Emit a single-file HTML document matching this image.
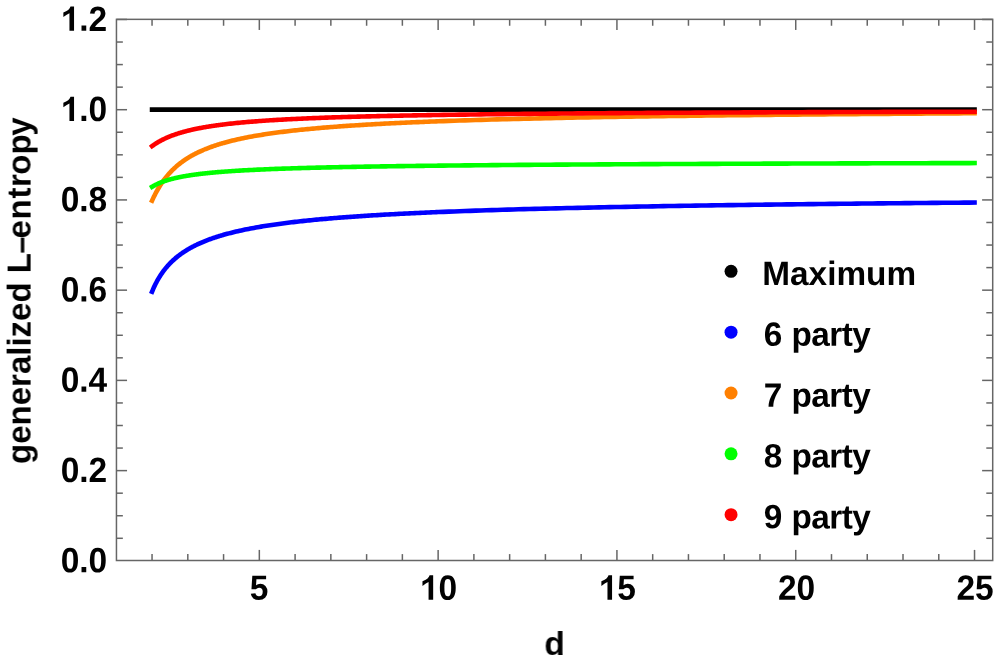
<!DOCTYPE html>
<html><head><meta charset="utf-8"><title>plot</title>
<style>
html,body{margin:0;padding:0;background:#fff;}
svg{display:block;}
text{font-family:"Liberation Sans",sans-serif;font-weight:bold;font-size:33.5px;fill:#000;}
</style></head><body>
<svg width="997" height="667" viewBox="0 0 997 667">
<rect x="0" y="0" width="997" height="667" fill="#ffffff"/>
<g>
<polyline points="152.05,109.60 974.53,109.60" fill="none" stroke="#000000" stroke-width="4.60" stroke-linecap="square" stroke-linejoin="round"/>
<polyline points="152.05,291.71 152.65,290.28 153.24,288.89 153.84,287.56 154.43,286.27 155.03,285.03 155.63,283.83 156.22,282.67 156.82,281.54 157.41,280.45 158.01,279.40 158.61,278.37 159.20,277.38 159.80,276.42 160.39,275.48 160.99,274.57 161.59,273.69 162.18,272.83 162.78,271.99 163.37,271.18 163.97,270.38 164.57,269.61 165.16,268.86 165.76,268.12 166.35,267.40 166.95,266.70 167.55,266.02 168.14,265.35 168.74,264.70 169.33,264.06 169.93,263.44 170.53,262.83 171.12,262.23 171.72,261.65 172.31,261.08 172.91,260.52 173.51,259.97 174.10,259.43 174.70,258.91 175.29,258.39 175.89,257.89 176.49,257.39 177.08,256.90 177.68,256.43 178.27,255.96 178.87,255.50 179.47,255.05 180.06,254.60 180.66,254.17 181.25,253.74 181.85,253.32 182.45,252.90 183.04,252.50 183.64,252.10 184.23,251.70 184.83,251.32 185.43,250.94 186.02,250.56 186.62,250.19 187.21,249.83 187.81,249.47 188.41,249.12 189.00,248.77 189.60,248.43 190.19,248.10 190.79,247.77 191.39,247.44 191.98,247.12 192.58,246.80 193.17,246.49 193.77,246.18 194.37,245.88 194.96,245.58 195.56,245.29 196.15,244.99 196.75,244.71 197.35,244.42 197.94,244.14 198.54,243.87 199.13,243.60 199.73,243.33 200.33,243.06 200.92,242.80 201.52,242.54 202.11,242.29 202.71,242.04 203.31,241.79 203.90,241.54 204.50,241.30 205.09,241.06 205.69,240.82 206.29,240.59 206.88,240.36 207.48,240.13 208.07,239.90 208.67,239.68 209.27,239.46 209.86,239.24 210.46,239.02 211.05,238.81 211.65,238.60 212.25,238.39 212.84,238.18 213.44,237.98 214.03,237.78 214.63,237.58 215.23,237.38 215.82,237.19 216.42,236.99 217.01,236.80 217.61,236.61 218.21,236.43 218.80,236.24 219.40,236.06 219.99,235.88 220.59,235.70 221.19,235.52 221.78,235.34 222.38,235.17 222.97,235.00 223.57,234.83 225.36,234.32 227.15,233.84 228.93,233.36 230.72,232.90 232.51,232.45 234.30,232.02 236.09,231.59 237.87,231.18 239.66,230.77 241.45,230.38 243.24,230.00 245.03,229.62 246.81,229.26 248.60,228.90 250.39,228.56 252.18,228.22 253.97,227.89 255.75,227.56 257.54,227.24 259.33,226.94 261.12,226.63 262.91,226.34 264.69,226.05 266.48,225.76 268.27,225.48 270.06,225.21 271.85,224.94 273.63,224.68 275.42,224.42 277.21,224.17 279.00,223.93 280.79,223.69 282.57,223.45 284.36,223.21 286.15,222.99 287.94,222.76 289.73,222.54 291.51,222.33 293.30,222.11 295.09,221.90 296.88,221.70 298.67,221.50 300.45,221.30 302.24,221.10 304.03,220.91 305.82,220.72 307.61,220.54 309.39,220.36 311.18,220.18 312.97,220.00 314.76,219.83 316.55,219.66 318.33,219.49 320.12,219.32 321.91,219.16 323.70,219.00 325.49,218.84 327.27,218.69 329.06,218.53 330.85,218.38 332.64,218.23 334.43,218.08 336.21,217.94 338.00,217.80 339.79,217.66 341.58,217.52 343.37,217.38 345.15,217.24 346.94,217.11 348.73,216.98 350.52,216.85 352.31,216.72 354.09,216.60 355.88,216.47 357.67,216.35 359.46,216.23 361.25,216.11 363.03,215.99 364.82,215.87 366.61,215.76 368.40,215.64 370.19,215.53 371.97,215.42 373.76,215.31 375.55,215.20 377.34,215.09 379.13,214.99 380.91,214.88 382.70,214.78 384.49,214.67 386.28,214.57 388.07,214.47 389.85,214.37 391.64,214.28 393.43,214.18 395.22,214.08 397.01,213.99 398.79,213.90 400.58,213.80 402.37,213.71 404.16,213.62 405.95,213.53 407.73,213.44 409.52,213.36 411.31,213.27 413.10,213.18 414.89,213.10 416.67,213.01 418.46,212.93 420.25,212.85 422.04,212.77 423.83,212.69 425.61,212.61 427.40,212.53 429.19,212.45 430.98,212.37 432.77,212.30 434.55,212.22 436.34,212.14 438.13,212.07 443.49,211.85 448.86,211.64 454.22,211.43 459.59,211.23 464.95,211.03 470.31,210.84 475.68,210.65 481.04,210.47 486.41,210.29 491.77,210.12 497.13,209.95 502.50,209.79 507.86,209.63 513.23,209.47 518.59,209.31 523.95,209.16 529.32,209.02 534.68,208.87 540.05,208.73 545.41,208.60 550.77,208.46 556.14,208.33 561.50,208.20 566.87,208.07 572.23,207.95 577.59,207.83 582.96,207.71 588.32,207.59 593.69,207.48 599.05,207.36 604.41,207.25 609.78,207.15 615.14,207.04 620.51,206.93 625.87,206.83 631.23,206.73 636.60,206.63 641.96,206.53 647.33,206.44 652.69,206.34 658.05,206.25 663.42,206.16 668.78,206.07 674.15,205.98 679.51,205.89 684.87,205.81 690.24,205.72 695.60,205.64 700.97,205.56 706.33,205.48 711.69,205.40 717.06,205.32 722.42,205.25 727.79,205.17 733.15,205.09 738.51,205.02 743.88,204.95 749.24,204.88 754.61,204.81 759.97,204.74 765.33,204.67 770.70,204.60 776.06,204.53 781.43,204.47 786.79,204.40 792.15,204.34 797.52,204.27 802.88,204.21 808.25,204.15 813.61,204.09 818.97,204.03 824.34,203.97 829.70,203.91 835.07,203.85 840.43,203.80 845.79,203.74 851.16,203.68 856.52,203.63 861.89,203.57 867.25,203.52 872.61,203.46 877.98,203.41 883.34,203.36 888.71,203.31 894.07,203.26 899.43,203.21 904.80,203.16 910.16,203.11 915.53,203.06 920.89,203.01 926.25,202.96 931.62,202.91 936.98,202.87 942.35,202.82 947.71,202.78 953.07,202.73 958.44,202.69 963.80,202.64 969.17,202.60 974.53,202.55" fill="none" stroke="#0000ff" stroke-width="4.60" stroke-linecap="square" stroke-linejoin="round"/>
<polyline points="152.05,200.71 152.65,199.39 153.24,198.10 153.84,196.85 154.43,195.64 155.03,194.45 155.63,193.30 156.22,192.18 156.82,191.08 157.41,190.02 158.01,188.98 158.61,187.97 159.20,186.98 159.80,186.02 160.39,185.08 160.99,184.17 161.59,183.27 162.18,182.40 162.78,181.55 163.37,180.71 163.97,179.90 164.57,179.11 165.16,178.33 165.76,177.57 166.35,176.83 166.95,176.10 167.55,175.39 168.14,174.70 168.74,174.02 169.33,173.35 169.93,172.70 170.53,172.06 171.12,171.43 171.72,170.82 172.31,170.22 172.91,169.63 173.51,169.06 174.10,168.49 174.70,167.94 175.29,167.39 175.89,166.86 176.49,166.34 177.08,165.82 177.68,165.32 178.27,164.82 178.87,164.34 179.47,163.86 180.06,163.39 180.66,162.93 181.25,162.48 181.85,162.04 182.45,161.60 183.04,161.17 183.64,160.75 184.23,160.34 184.83,159.93 185.43,159.53 186.02,159.14 186.62,158.75 187.21,158.37 187.81,157.99 188.41,157.62 189.00,157.26 189.60,156.90 190.19,156.55 190.79,156.21 191.39,155.86 191.98,155.53 192.58,155.20 193.17,154.87 193.77,154.55 194.37,154.24 194.96,153.92 195.56,153.62 196.15,153.31 196.75,153.02 197.35,152.72 197.94,152.43 198.54,152.15 199.13,151.87 199.73,151.59 200.33,151.31 200.92,151.04 201.52,150.78 202.11,150.51 202.71,150.26 203.31,150.00 203.90,149.75 204.50,149.50 205.09,149.25 205.69,149.01 206.29,148.77 206.88,148.53 207.48,148.30 208.07,148.07 208.67,147.84 209.27,147.61 209.86,147.39 210.46,147.17 211.05,146.96 211.65,146.74 212.25,146.53 212.84,146.32 213.44,146.11 214.03,145.91 214.63,145.71 215.23,145.51 215.82,145.31 216.42,145.11 217.01,144.92 217.61,144.73 218.21,144.54 218.80,144.36 219.40,144.17 219.99,143.99 220.59,143.81 221.19,143.63 221.78,143.45 222.38,143.28 222.97,143.11 223.57,142.94 225.36,142.44 227.15,141.95 228.93,141.48 230.72,141.02 232.51,140.58 234.30,140.15 236.09,139.73 237.87,139.32 239.66,138.92 241.45,138.54 243.24,138.16 245.03,137.80 246.81,137.44 248.60,137.10 250.39,136.76 252.18,136.43 253.97,136.11 255.75,135.79 257.54,135.49 259.33,135.19 261.12,134.90 262.91,134.61 264.69,134.33 266.48,134.06 268.27,133.79 270.06,133.53 271.85,133.28 273.63,133.02 275.42,132.78 277.21,132.54 279.00,132.31 280.79,132.08 282.57,131.85 284.36,131.63 286.15,131.41 287.94,131.20 289.73,130.99 291.51,130.79 293.30,130.58 295.09,130.39 296.88,130.19 298.67,130.00 300.45,129.82 302.24,129.63 304.03,129.45 305.82,129.28 307.61,129.10 309.39,128.93 311.18,128.76 312.97,128.60 314.76,128.44 316.55,128.28 318.33,128.12 320.12,127.96 321.91,127.81 323.70,127.66 325.49,127.51 327.27,127.37 329.06,127.23 330.85,127.08 332.64,126.95 334.43,126.81 336.21,126.67 338.00,126.54 339.79,126.41 341.58,126.28 343.37,126.16 345.15,126.03 346.94,125.91 348.73,125.78 350.52,125.66 352.31,125.55 354.09,125.43 355.88,125.31 357.67,125.20 359.46,125.09 361.25,124.98 363.03,124.87 364.82,124.76 366.61,124.66 368.40,124.55 370.19,124.45 371.97,124.34 373.76,124.24 375.55,124.14 377.34,124.05 379.13,123.95 380.91,123.85 382.70,123.76 384.49,123.66 386.28,123.57 388.07,123.48 389.85,123.39 391.64,123.30 393.43,123.21 395.22,123.12 397.01,123.04 398.79,122.95 400.58,122.87 402.37,122.79 404.16,122.70 405.95,122.62 407.73,122.54 409.52,122.46 411.31,122.38 413.10,122.31 414.89,122.23 416.67,122.15 418.46,122.08 420.25,122.00 422.04,121.93 423.83,121.86 425.61,121.78 427.40,121.71 429.19,121.64 430.98,121.57 432.77,121.50 434.55,121.43 436.34,121.37 438.13,121.30 443.49,121.10 448.86,120.91 454.22,120.72 459.59,120.54 464.95,120.37 470.31,120.20 475.68,120.03 481.04,119.87 486.41,119.71 491.77,119.56 497.13,119.41 502.50,119.26 507.86,119.12 513.23,118.98 518.59,118.85 523.95,118.71 529.32,118.59 534.68,118.46 540.05,118.34 545.41,118.22 550.77,118.10 556.14,117.99 561.50,117.87 566.87,117.76 572.23,117.66 577.59,117.55 582.96,117.45 588.32,117.35 593.69,117.25 599.05,117.15 604.41,117.06 609.78,116.97 615.14,116.88 620.51,116.79 625.87,116.70 631.23,116.61 636.60,116.53 641.96,116.45 647.33,116.37 652.69,116.29 658.05,116.21 663.42,116.13 668.78,116.06 674.15,115.99 679.51,115.91 684.87,115.84 690.24,115.77 695.60,115.70 700.97,115.64 706.33,115.57 711.69,115.50 717.06,115.44 722.42,115.38 727.79,115.31 733.15,115.25 738.51,115.19 743.88,115.13 749.24,115.08 754.61,115.02 759.97,114.96 765.33,114.91 770.70,114.85 776.06,114.80 781.43,114.75 786.79,114.69 792.15,114.64 797.52,114.59 802.88,114.54 808.25,114.49 813.61,114.44 818.97,114.40 824.34,114.35 829.70,114.30 835.07,114.26 840.43,114.21 845.79,114.17 851.16,114.12 856.52,114.08 861.89,114.04 867.25,113.99 872.61,113.95 877.98,113.91 883.34,113.87 888.71,113.83 894.07,113.79 899.43,113.75 904.80,113.71 910.16,113.68 915.53,113.64 920.89,113.60 926.25,113.56 931.62,113.53 936.98,113.49 942.35,113.46 947.71,113.42 953.07,113.39 958.44,113.35 963.80,113.32 969.17,113.29 974.53,113.26" fill="none" stroke="#ff8000" stroke-width="4.60" stroke-linecap="square" stroke-linejoin="round"/>
<polyline points="152.05,186.82 152.65,186.46 153.24,186.11 153.84,185.78 154.43,185.45 155.03,185.14 155.63,184.83 156.22,184.53 156.82,184.24 157.41,183.96 158.01,183.69 158.61,183.42 159.20,183.16 159.80,182.91 160.39,182.66 160.99,182.42 161.59,182.19 162.18,181.96 162.78,181.74 163.37,181.52 163.97,181.31 164.57,181.11 165.16,180.90 165.76,180.71 166.35,180.52 166.95,180.33 167.55,180.14 168.14,179.96 168.74,179.79 169.33,179.62 169.93,179.45 170.53,179.28 171.12,179.12 171.72,178.96 172.31,178.81 172.91,178.66 173.51,178.51 174.10,178.36 174.70,178.22 175.29,178.08 175.89,177.94 176.49,177.81 177.08,177.67 177.68,177.54 178.27,177.42 178.87,177.29 179.47,177.17 180.06,177.05 180.66,176.93 181.25,176.81 181.85,176.70 182.45,176.58 183.04,176.47 183.64,176.36 184.23,176.26 184.83,176.15 185.43,176.05 186.02,175.94 186.62,175.84 187.21,175.75 187.81,175.65 188.41,175.55 189.00,175.46 189.60,175.36 190.19,175.27 190.79,175.18 191.39,175.09 191.98,175.01 192.58,174.92 193.17,174.84 193.77,174.75 194.37,174.67 194.96,174.59 195.56,174.51 196.15,174.43 196.75,174.35 197.35,174.27 197.94,174.20 198.54,174.12 199.13,174.05 199.73,173.98 200.33,173.90 200.92,173.83 201.52,173.76 202.11,173.69 202.71,173.63 203.31,173.56 203.90,173.49 204.50,173.43 205.09,173.36 205.69,173.30 206.29,173.23 206.88,173.17 207.48,173.11 208.07,173.05 208.67,172.99 209.27,172.93 209.86,172.87 210.46,172.81 211.05,172.76 211.65,172.70 212.25,172.64 212.84,172.59 213.44,172.53 214.03,172.48 214.63,172.42 215.23,172.37 215.82,172.32 216.42,172.27 217.01,172.21 217.61,172.16 218.21,172.11 218.80,172.06 219.40,172.02 219.99,171.97 220.59,171.92 221.19,171.87 221.78,171.82 222.38,171.78 222.97,171.73 223.57,171.68 225.36,171.55 227.15,171.42 228.93,171.29 230.72,171.17 232.51,171.05 234.30,170.93 236.09,170.82 237.87,170.71 239.66,170.60 241.45,170.50 243.24,170.40 245.03,170.30 246.81,170.20 248.60,170.11 250.39,170.02 252.18,169.93 253.97,169.84 255.75,169.75 257.54,169.67 259.33,169.59 261.12,169.51 262.91,169.43 264.69,169.35 266.48,169.28 268.27,169.20 270.06,169.13 271.85,169.06 273.63,168.99 275.42,168.92 277.21,168.86 279.00,168.79 280.79,168.73 282.57,168.67 284.36,168.61 286.15,168.54 287.94,168.49 289.73,168.43 291.51,168.37 293.30,168.31 295.09,168.26 296.88,168.21 298.67,168.15 300.45,168.10 302.24,168.05 304.03,168.00 305.82,167.95 307.61,167.90 309.39,167.85 311.18,167.81 312.97,167.76 314.76,167.71 316.55,167.67 318.33,167.62 320.12,167.58 321.91,167.54 323.70,167.50 325.49,167.45 327.27,167.41 329.06,167.37 330.85,167.33 332.64,167.29 334.43,167.25 336.21,167.22 338.00,167.18 339.79,167.14 341.58,167.10 343.37,167.07 345.15,167.03 346.94,167.00 348.73,166.96 350.52,166.93 352.31,166.90 354.09,166.86 355.88,166.83 357.67,166.80 359.46,166.76 361.25,166.73 363.03,166.70 364.82,166.67 366.61,166.64 368.40,166.61 370.19,166.58 371.97,166.55 373.76,166.52 375.55,166.49 377.34,166.46 379.13,166.44 380.91,166.41 382.70,166.38 384.49,166.35 386.28,166.33 388.07,166.30 389.85,166.27 391.64,166.25 393.43,166.22 395.22,166.20 397.01,166.17 398.79,166.15 400.58,166.12 402.37,166.10 404.16,166.08 405.95,166.05 407.73,166.03 409.52,166.00 411.31,165.98 413.10,165.96 414.89,165.94 416.67,165.91 418.46,165.89 420.25,165.87 422.04,165.85 423.83,165.83 425.61,165.81 427.40,165.78 429.19,165.76 430.98,165.74 432.77,165.72 434.55,165.70 436.34,165.68 438.13,165.66 443.49,165.60 448.86,165.55 454.22,165.49 459.59,165.44 464.95,165.38 470.31,165.33 475.68,165.28 481.04,165.23 486.41,165.19 491.77,165.14 497.13,165.10 502.50,165.05 507.86,165.01 513.23,164.97 518.59,164.92 523.95,164.88 529.32,164.84 534.68,164.81 540.05,164.77 545.41,164.73 550.77,164.69 556.14,164.66 561.50,164.62 566.87,164.59 572.23,164.56 577.59,164.52 582.96,164.49 588.32,164.46 593.69,164.43 599.05,164.40 604.41,164.37 609.78,164.34 615.14,164.31 620.51,164.28 625.87,164.25 631.23,164.22 636.60,164.20 641.96,164.17 647.33,164.14 652.69,164.12 658.05,164.09 663.42,164.07 668.78,164.04 674.15,164.02 679.51,163.99 684.87,163.97 690.24,163.95 695.60,163.93 700.97,163.90 706.33,163.88 711.69,163.86 717.06,163.84 722.42,163.82 727.79,163.80 733.15,163.77 738.51,163.75 743.88,163.73 749.24,163.71 754.61,163.70 759.97,163.68 765.33,163.66 770.70,163.64 776.06,163.62 781.43,163.60 786.79,163.58 792.15,163.57 797.52,163.55 802.88,163.53 808.25,163.51 813.61,163.50 818.97,163.48 824.34,163.46 829.70,163.45 835.07,163.43 840.43,163.42 845.79,163.40 851.16,163.38 856.52,163.37 861.89,163.35 867.25,163.34 872.61,163.32 877.98,163.31 883.34,163.29 888.71,163.28 894.07,163.27 899.43,163.25 904.80,163.24 910.16,163.22 915.53,163.21 920.89,163.20 926.25,163.18 931.62,163.17 936.98,163.16 942.35,163.14 947.71,163.13 953.07,163.12 958.44,163.11 963.80,163.09 969.17,163.08 974.53,163.07" fill="none" stroke="#00ff00" stroke-width="4.60" stroke-linecap="square" stroke-linejoin="round"/>
<polyline points="152.05,146.14 152.65,145.70 153.24,145.28 153.84,144.86 154.43,144.46 155.03,144.06 155.63,143.67 156.22,143.29 156.82,142.92 157.41,142.56 158.01,142.20 158.61,141.86 159.20,141.52 159.80,141.18 160.39,140.86 160.99,140.53 161.59,140.22 162.18,139.91 162.78,139.61 163.37,139.32 163.97,139.03 164.57,138.74 165.16,138.46 165.76,138.19 166.35,137.92 166.95,137.65 167.55,137.40 168.14,137.14 168.74,136.89 169.33,136.65 169.93,136.40 170.53,136.17 171.12,135.93 171.72,135.71 172.31,135.48 172.91,135.26 173.51,135.04 174.10,134.83 174.70,134.62 175.29,134.41 175.89,134.21 176.49,134.01 177.08,133.81 177.68,133.62 178.27,133.43 178.87,133.24 179.47,133.05 180.06,132.87 180.66,132.69 181.25,132.52 181.85,132.34 182.45,132.17 183.04,132.00 183.64,131.84 184.23,131.67 184.83,131.51 185.43,131.35 186.02,131.20 186.62,131.04 187.21,130.89 187.81,130.74 188.41,130.59 189.00,130.45 189.60,130.30 190.19,130.16 190.79,130.02 191.39,129.88 191.98,129.75 192.58,129.61 193.17,129.48 193.77,129.35 194.37,129.22 194.96,129.09 195.56,128.97 196.15,128.84 196.75,128.72 197.35,128.60 197.94,128.48 198.54,128.36 199.13,128.25 199.73,128.13 200.33,128.02 200.92,127.90 201.52,127.79 202.11,127.68 202.71,127.58 203.31,127.47 203.90,127.36 204.50,127.26 205.09,127.15 205.69,127.05 206.29,126.95 206.88,126.85 207.48,126.75 208.07,126.66 208.67,126.56 209.27,126.46 209.86,126.37 210.46,126.28 211.05,126.19 211.65,126.09 212.25,126.00 212.84,125.91 213.44,125.83 214.03,125.74 214.63,125.65 215.23,125.57 215.82,125.48 216.42,125.40 217.01,125.32 217.61,125.24 218.21,125.15 218.80,125.07 219.40,125.00 219.99,124.92 220.59,124.84 221.19,124.76 221.78,124.69 222.38,124.61 222.97,124.54 223.57,124.46 225.36,124.25 227.15,124.03 228.93,123.83 230.72,123.63 232.51,123.44 234.30,123.25 236.09,123.07 237.87,122.89 239.66,122.71 241.45,122.55 243.24,122.38 245.03,122.22 246.81,122.06 248.60,121.91 250.39,121.76 252.18,121.62 253.97,121.47 255.75,121.34 257.54,121.20 259.33,121.07 261.12,120.94 262.91,120.81 264.69,120.69 266.48,120.57 268.27,120.45 270.06,120.33 271.85,120.22 273.63,120.11 275.42,120.00 277.21,119.90 279.00,119.79 280.79,119.69 282.57,119.59 284.36,119.49 286.15,119.39 287.94,119.30 289.73,119.21 291.51,119.12 293.30,119.03 295.09,118.94 296.88,118.86 298.67,118.77 300.45,118.69 302.24,118.61 304.03,118.53 305.82,118.45 307.61,118.37 309.39,118.30 311.18,118.22 312.97,118.15 314.76,118.08 316.55,118.01 318.33,117.94 320.12,117.87 321.91,117.80 323.70,117.74 325.49,117.67 327.27,117.61 329.06,117.54 330.85,117.48 332.64,117.42 334.43,117.36 336.21,117.30 338.00,117.24 339.79,117.19 341.58,117.13 343.37,117.07 345.15,117.02 346.94,116.97 348.73,116.91 350.52,116.86 352.31,116.81 354.09,116.76 355.88,116.71 357.67,116.66 359.46,116.61 361.25,116.56 363.03,116.51 364.82,116.47 366.61,116.42 368.40,116.37 370.19,116.33 371.97,116.28 373.76,116.24 375.55,116.20 377.34,116.15 379.13,116.11 380.91,116.07 382.70,116.03 384.49,115.99 386.28,115.95 388.07,115.91 389.85,115.87 391.64,115.83 393.43,115.79 395.22,115.76 397.01,115.72 398.79,115.68 400.58,115.65 402.37,115.61 404.16,115.57 405.95,115.54 407.73,115.51 409.52,115.47 411.31,115.44 413.10,115.40 414.89,115.37 416.67,115.34 418.46,115.31 420.25,115.27 422.04,115.24 423.83,115.21 425.61,115.18 427.40,115.15 429.19,115.12 430.98,115.09 432.77,115.06 434.55,115.03 436.34,115.00 438.13,114.97 443.49,114.89 448.86,114.81 454.22,114.73 459.59,114.65 464.95,114.58 470.31,114.51 475.68,114.44 481.04,114.37 486.41,114.30 491.77,114.24 497.13,114.17 502.50,114.11 507.86,114.05 513.23,114.00 518.59,113.94 523.95,113.88 529.32,113.83 534.68,113.78 540.05,113.73 545.41,113.68 550.77,113.63 556.14,113.58 561.50,113.54 566.87,113.49 572.23,113.45 577.59,113.40 582.96,113.36 588.32,113.32 593.69,113.28 599.05,113.24 604.41,113.20 609.78,113.16 615.14,113.13 620.51,113.09 625.87,113.05 631.23,113.02 636.60,112.99 641.96,112.95 647.33,112.92 652.69,112.89 658.05,112.86 663.42,112.82 668.78,112.79 674.15,112.76 679.51,112.73 684.87,112.71 690.24,112.68 695.60,112.65 700.97,112.62 706.33,112.60 711.69,112.57 717.06,112.54 722.42,112.52 727.79,112.49 733.15,112.47 738.51,112.45 743.88,112.42 749.24,112.40 754.61,112.38 759.97,112.35 765.33,112.33 770.70,112.31 776.06,112.29 781.43,112.27 786.79,112.25 792.15,112.23 797.52,112.21 802.88,112.19 808.25,112.17 813.61,112.15 818.97,112.13 824.34,112.11 829.70,112.09 835.07,112.07 840.43,112.05 845.79,112.04 851.16,112.02 856.52,112.00 861.89,111.99 867.25,111.97 872.61,111.95 877.98,111.94 883.34,111.92 888.71,111.90 894.07,111.89 899.43,111.87 904.80,111.86 910.16,111.84 915.53,111.83 920.89,111.81 926.25,111.80 931.62,111.79 936.98,111.77 942.35,111.76 947.71,111.74 953.07,111.73 958.44,111.72 963.80,111.70 969.17,111.69 974.53,111.68" fill="none" stroke="#ff0000" stroke-width="4.60" stroke-linecap="square" stroke-linejoin="round"/>
</g>
<g stroke="#666666" stroke-width="1.5" fill="none">
<line x1="152.05" y1="560.50" x2="152.05" y2="554.10"/>
<line x1="152.05" y1="19.35" x2="152.05" y2="25.75"/>
<line x1="187.81" y1="560.50" x2="187.81" y2="554.10"/>
<line x1="187.81" y1="19.35" x2="187.81" y2="25.75"/>
<line x1="223.57" y1="560.50" x2="223.57" y2="554.10"/>
<line x1="223.57" y1="19.35" x2="223.57" y2="25.75"/>
<line x1="259.33" y1="560.50" x2="259.33" y2="549.90"/>
<line x1="259.33" y1="19.35" x2="259.33" y2="29.95"/>
<line x1="295.09" y1="560.50" x2="295.09" y2="554.10"/>
<line x1="295.09" y1="19.35" x2="295.09" y2="25.75"/>
<line x1="330.85" y1="560.50" x2="330.85" y2="554.10"/>
<line x1="330.85" y1="19.35" x2="330.85" y2="25.75"/>
<line x1="366.61" y1="560.50" x2="366.61" y2="554.10"/>
<line x1="366.61" y1="19.35" x2="366.61" y2="25.75"/>
<line x1="402.37" y1="560.50" x2="402.37" y2="554.10"/>
<line x1="402.37" y1="19.35" x2="402.37" y2="25.75"/>
<line x1="438.13" y1="560.50" x2="438.13" y2="549.90"/>
<line x1="438.13" y1="19.35" x2="438.13" y2="29.95"/>
<line x1="473.89" y1="560.50" x2="473.89" y2="554.10"/>
<line x1="473.89" y1="19.35" x2="473.89" y2="25.75"/>
<line x1="509.65" y1="560.50" x2="509.65" y2="554.10"/>
<line x1="509.65" y1="19.35" x2="509.65" y2="25.75"/>
<line x1="545.41" y1="560.50" x2="545.41" y2="554.10"/>
<line x1="545.41" y1="19.35" x2="545.41" y2="25.75"/>
<line x1="581.17" y1="560.50" x2="581.17" y2="554.10"/>
<line x1="581.17" y1="19.35" x2="581.17" y2="25.75"/>
<line x1="616.93" y1="560.50" x2="616.93" y2="549.90"/>
<line x1="616.93" y1="19.35" x2="616.93" y2="29.95"/>
<line x1="652.69" y1="560.50" x2="652.69" y2="554.10"/>
<line x1="652.69" y1="19.35" x2="652.69" y2="25.75"/>
<line x1="688.45" y1="560.50" x2="688.45" y2="554.10"/>
<line x1="688.45" y1="19.35" x2="688.45" y2="25.75"/>
<line x1="724.21" y1="560.50" x2="724.21" y2="554.10"/>
<line x1="724.21" y1="19.35" x2="724.21" y2="25.75"/>
<line x1="759.97" y1="560.50" x2="759.97" y2="554.10"/>
<line x1="759.97" y1="19.35" x2="759.97" y2="25.75"/>
<line x1="795.73" y1="560.50" x2="795.73" y2="549.90"/>
<line x1="795.73" y1="19.35" x2="795.73" y2="29.95"/>
<line x1="831.49" y1="560.50" x2="831.49" y2="554.10"/>
<line x1="831.49" y1="19.35" x2="831.49" y2="25.75"/>
<line x1="867.25" y1="560.50" x2="867.25" y2="554.10"/>
<line x1="867.25" y1="19.35" x2="867.25" y2="25.75"/>
<line x1="903.01" y1="560.50" x2="903.01" y2="554.10"/>
<line x1="903.01" y1="19.35" x2="903.01" y2="25.75"/>
<line x1="938.77" y1="560.50" x2="938.77" y2="554.10"/>
<line x1="938.77" y1="19.35" x2="938.77" y2="25.75"/>
<line x1="974.53" y1="560.50" x2="974.53" y2="549.90"/>
<line x1="974.53" y1="19.35" x2="974.53" y2="29.95"/>
<line x1="116.45" y1="538.29" x2="122.85" y2="538.29"/>
<line x1="992.70" y1="538.29" x2="986.30" y2="538.29"/>
<line x1="116.45" y1="515.74" x2="122.85" y2="515.74"/>
<line x1="992.70" y1="515.74" x2="986.30" y2="515.74"/>
<line x1="116.45" y1="493.18" x2="122.85" y2="493.18"/>
<line x1="992.70" y1="493.18" x2="986.30" y2="493.18"/>
<line x1="116.45" y1="470.62" x2="127.05" y2="470.62"/>
<line x1="992.70" y1="470.62" x2="982.10" y2="470.62"/>
<line x1="116.45" y1="448.06" x2="122.85" y2="448.06"/>
<line x1="992.70" y1="448.06" x2="986.30" y2="448.06"/>
<line x1="116.45" y1="425.50" x2="122.85" y2="425.50"/>
<line x1="992.70" y1="425.50" x2="986.30" y2="425.50"/>
<line x1="116.45" y1="402.95" x2="122.85" y2="402.95"/>
<line x1="992.70" y1="402.95" x2="986.30" y2="402.95"/>
<line x1="116.45" y1="380.39" x2="127.05" y2="380.39"/>
<line x1="992.70" y1="380.39" x2="982.10" y2="380.39"/>
<line x1="116.45" y1="357.83" x2="122.85" y2="357.83"/>
<line x1="992.70" y1="357.83" x2="986.30" y2="357.83"/>
<line x1="116.45" y1="335.28" x2="122.85" y2="335.28"/>
<line x1="992.70" y1="335.28" x2="986.30" y2="335.28"/>
<line x1="116.45" y1="312.72" x2="122.85" y2="312.72"/>
<line x1="992.70" y1="312.72" x2="986.30" y2="312.72"/>
<line x1="116.45" y1="290.16" x2="127.05" y2="290.16"/>
<line x1="992.70" y1="290.16" x2="982.10" y2="290.16"/>
<line x1="116.45" y1="267.60" x2="122.85" y2="267.60"/>
<line x1="992.70" y1="267.60" x2="986.30" y2="267.60"/>
<line x1="116.45" y1="245.05" x2="122.85" y2="245.05"/>
<line x1="992.70" y1="245.05" x2="986.30" y2="245.05"/>
<line x1="116.45" y1="222.49" x2="122.85" y2="222.49"/>
<line x1="992.70" y1="222.49" x2="986.30" y2="222.49"/>
<line x1="116.45" y1="199.93" x2="127.05" y2="199.93"/>
<line x1="992.70" y1="199.93" x2="982.10" y2="199.93"/>
<line x1="116.45" y1="177.37" x2="122.85" y2="177.37"/>
<line x1="992.70" y1="177.37" x2="986.30" y2="177.37"/>
<line x1="116.45" y1="154.82" x2="122.85" y2="154.82"/>
<line x1="992.70" y1="154.82" x2="986.30" y2="154.82"/>
<line x1="116.45" y1="132.26" x2="122.85" y2="132.26"/>
<line x1="992.70" y1="132.26" x2="986.30" y2="132.26"/>
<line x1="116.45" y1="109.70" x2="127.05" y2="109.70"/>
<line x1="992.70" y1="109.70" x2="982.10" y2="109.70"/>
<line x1="116.45" y1="87.14" x2="122.85" y2="87.14"/>
<line x1="992.70" y1="87.14" x2="986.30" y2="87.14"/>
<line x1="116.45" y1="64.58" x2="122.85" y2="64.58"/>
<line x1="992.70" y1="64.58" x2="986.30" y2="64.58"/>
<line x1="116.45" y1="42.03" x2="122.85" y2="42.03"/>
<line x1="992.70" y1="42.03" x2="986.30" y2="42.03"/>
<line x1="116.45" y1="19.47" x2="127.05" y2="19.47"/>
<line x1="992.70" y1="19.47" x2="982.10" y2="19.47"/>
<rect x="116.45" y="19.35" width="876.25" height="541.15"/>
</g>
<g opacity="0.999">
<text transform="translate(60.68,572.25) scale(1,1.047) rotate(0.03)" text-anchor="start">0.0</text>
<text transform="translate(60.68,482.02) scale(1,1.047) rotate(0.03)" text-anchor="start">0.2</text>
<text transform="translate(60.68,391.79) scale(1,1.047) rotate(0.03)" text-anchor="start">0.4</text>
<text transform="translate(60.68,301.56) scale(1,1.047) rotate(0.03)" text-anchor="start">0.6</text>
<text transform="translate(60.68,211.33) scale(1,1.047) rotate(0.03)" text-anchor="start">0.8</text>
<path d="M74.05,96.75 L74.05,121.10 L69.45,121.10 L69.45,103.50 Q67.05,104.50 63.35,107.35 L63.35,102.76 Q69.45,100.65 70.50,96.75 Z" fill="#000"/>
<text transform="translate(79.31,121.10) scale(1,1.047) rotate(0.03)" text-anchor="start">.0</text>
<path d="M74.05,6.52 L74.05,30.87 L69.45,30.87 L69.45,13.27 Q67.05,14.27 63.35,17.12 L63.35,12.53 Q69.45,10.42 70.50,6.52 Z" fill="#000"/>
<text transform="translate(79.31,30.87) scale(1,1.047) rotate(0.03)" text-anchor="start">.2</text>
<text transform="translate(249.82,599.70) scale(1,1.047) rotate(0.03)" text-anchor="start">5</text>
<path d="M433.17,575.35 L433.17,599.70 L428.57,599.70 L428.57,582.10 Q426.17,583.10 422.47,585.95 L422.47,581.36 Q428.57,579.25 429.62,575.35 Z" fill="#000"/>
<text transform="translate(438.43,599.70) scale(1,1.047) rotate(0.03)" text-anchor="start">0</text>
<path d="M612.07,575.35 L612.07,599.70 L607.47,599.70 L607.47,582.10 Q605.07,583.10 601.37,585.95 L601.37,581.36 Q607.47,579.25 608.52,575.35 Z" fill="#000"/>
<text transform="translate(617.33,599.70) scale(1,1.047) rotate(0.03)" text-anchor="start">5</text>
<text transform="translate(777.90,599.70) scale(1,1.047) rotate(0.03)" text-anchor="start">20</text>
<text transform="translate(956.50,599.70) scale(1,1.047) rotate(0.03)" text-anchor="start">25</text>
<text transform="translate(554.60,655.00) scale(1,1.000) rotate(0.03)" text-anchor="middle">d</text>
<g transform="translate(30.5,0) rotate(-90) scale(1,1.03)">
<text x="-463.95" y="0" style="font-size:33px">generalized L</text>
<rect x="-252.6" y="-9.35" width="14.9" height="3.3" fill="#000"/>
<text x="-117.5" y="0" dx="0 0.75 0.75 0.6 -0.6 0.1 -1.6" text-anchor="end" style="font-size:33px">entropy</text>
</g>
<circle cx="731.05" cy="271.30" r="6.5" fill="#000000"/>
<text transform="translate(762.30,284.95) scale(1,1.010) rotate(0.03)" text-anchor="start" style="font-size:33.35px">Maximum</text>
<circle cx="731.05" cy="332.15" r="6.5" fill="#0000ff"/>
<text transform="translate(763.70,345.80) scale(1,1.010) rotate(0.03)" text-anchor="start" style="font-size:33.35px;letter-spacing:-0.55px;word-spacing:1.1px">6 party</text>
<circle cx="731.05" cy="393.00" r="6.5" fill="#ff8000"/>
<text transform="translate(763.70,406.65) scale(1,1.010) rotate(0.03)" text-anchor="start" style="font-size:33.35px;letter-spacing:-0.55px;word-spacing:1.1px">7 party</text>
<circle cx="731.05" cy="453.85" r="6.5" fill="#00ff00"/>
<text transform="translate(763.70,467.50) scale(1,1.010) rotate(0.03)" text-anchor="start" style="font-size:33.35px;letter-spacing:-0.55px;word-spacing:1.1px">8 party</text>
<circle cx="731.05" cy="514.70" r="6.5" fill="#ff0000"/>
<text transform="translate(763.70,528.35) scale(1,1.010) rotate(0.03)" text-anchor="start" style="font-size:33.35px;letter-spacing:-0.55px;word-spacing:1.1px">9 party</text>
</g>
</svg>
</body></html>
